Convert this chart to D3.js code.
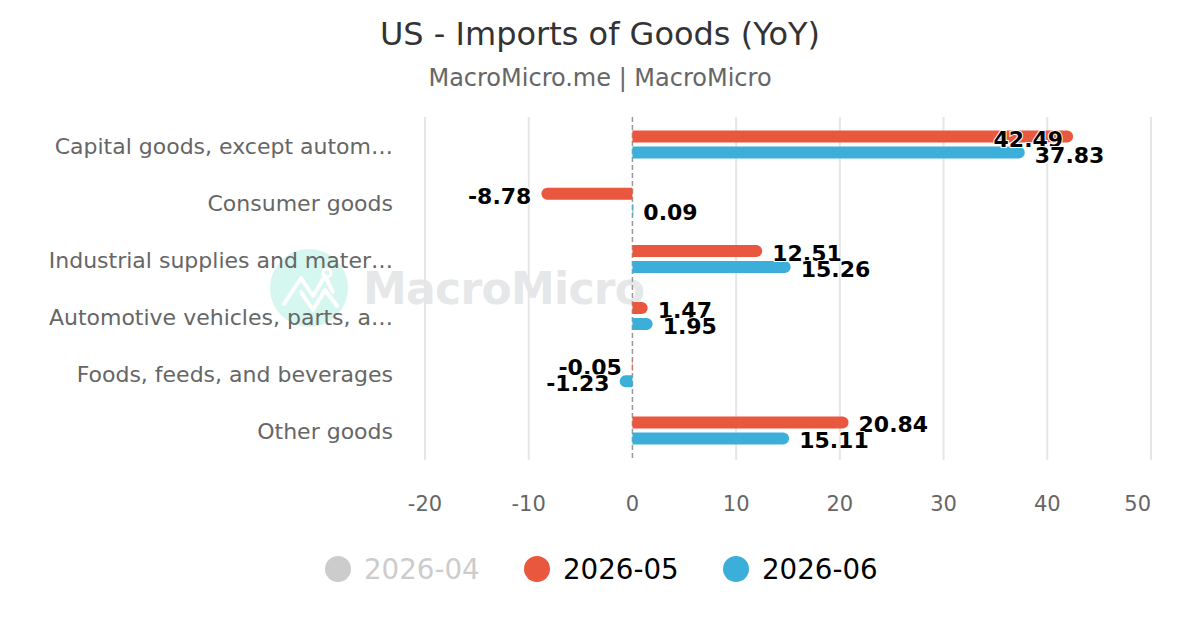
<!DOCTYPE html>
<html>
<head>
<meta charset="utf-8">
<script src="https://cdn.jsdelivr.net/npm/d3@7"></script>
<style>
  body { margin: 0; background: #fff; }
  svg { font-family: "DejaVu Sans", sans-serif; }
</style>
</head>
<body>
<svg id="chart" width="1200" height="630"></svg>
<script>
'use strict';

// Data
const categories = [
  "Capital goods, except autom\u2026",
  "Consumer goods",
  "Industrial supplies and mater\u2026",
  "Automotive vehicles, parts, a\u2026",
  "Foods, feeds, and beverages",
  "Other goods"
];
const seriesNames = ["2026-04", "2026-05", "2026-06"];
const seriesVisible = [false, true, true];
const values0605 = [42.49, -8.78, 12.51, 1.47, -0.05, 20.84];
const values0606 = [37.83, 0.09, 15.26, 1.95, -1.23, 15.11];
const xTicks = [-20, -10, 0, 10, 20, 30, 40, 50];

const colors = {"2026-04": "#cccccc", "2026-05": "#e9573f", "2026-06": "#3bafda"};

// Layout
const plot = {left: 425, right: 1151, top: 117, bottom: 460};
const svg = d3.select("#chart");

const x = d3.scaleLinear().domain([-20, 50]).range([plot.left, plot.right]);
const y = d3.scaleBand().domain(categories).range([plot.top, plot.bottom]);

const shown = seriesNames.filter((s, i) => seriesVisible[i]);
const bw = y.bandwidth();
const yInner = d3.scaleBand().domain(shown)
  .range([bw / 2 - 15, bw / 2 + 13]).paddingInner(0.25);

// Title
svg.append("text")
  .attr("x", 600).attr("y", 45)
  .attr("text-anchor", "middle")
  .style("font-size", "32px")
  .style("fill", "#333")
  .text("US - Imports of Goods (YoY)");
svg.append("text")
  .attr("x", 600).attr("y", 86)
  .attr("text-anchor", "middle")
  .style("font-size", "24px")
  .style("fill", "#666")
  .text("MacroMicro.me | MacroMicro");

// Watermark
const wm = svg.append("g").attr("class", "watermark");
wm.append("circle").attr("cx", 309).attr("cy", 288).attr("r", 39).attr("fill", "#d6f6f0");
wm.append("path")
  .attr("d", "M284,304 L301,278 L313,296 L325,276 L333,292 M301,292 L313,310 L325,290 L337,306")
  .attr("fill", "none").attr("stroke", "#fff").attr("stroke-width", 4)
  .attr("stroke-linecap", "round").attr("stroke-linejoin", "round");
wm.append("circle").attr("cx", 327).attr("cy", 273).attr("r", 4)
  .attr("fill", "none").attr("stroke", "#fff").attr("stroke-width", 3);
wm.append("text")
  .attr("x", 363).attr("y", 304)
  .attr("textLength", 282)
  .style("font-size", "44px").style("font-weight", "bold")
  .style("fill", "#e6e7e9")
  .text("MacroMicro");

// Grid
svg.append("g").selectAll("line")
  .data(xTicks.filter(d => d !== 0))
  .enter().append("line")
  .attr("x1", d => x(d)).attr("x2", d => x(d))
  .attr("y1", plot.top).attr("y2", plot.bottom)
  .attr("stroke", "#e6e6e6").attr("stroke-width", 2);

svg.append("line")
  .attr("x1", x(0)).attr("x2", x(0))
  .attr("y1", plot.top).attr("y2", plot.bottom)
  .attr("stroke", "#999").attr("stroke-width", 1.5)
  .attr("stroke-dasharray", "5,3");

// x axis labels (last one kept inside the chart)
svg.append("g").selectAll("text")
  .data(xTicks)
  .enter().append("text")
  .attr("x", (d, i) => i === xTicks.length - 1 ? x(d) : x(d))
  .attr("y", 511)
  .attr("text-anchor", (d, i) => i === xTicks.length - 1 ? "end" : "middle")
  .style("font-size", "21px").style("fill", "#666")
  .text(d => d);

// category labels
svg.append("g").selectAll("text")
  .data(categories)
  .enter().append("text")
  .attr("x", 393).attr("y", d => y(d) + bw / 2 + 8)
  .attr("text-anchor", "end")
  .style("font-size", "22px").style("fill", "#666")
  .text(d => d);

// bars
const rows = [];
categories.forEach((c, i) => {
  rows.push({cat: c, series: "2026-05", value: values0605[i]});
  rows.push({cat: c, series: "2026-06", value: values0606[i]});
});

function barPath(d) {
  const x0 = x(0), x1 = x(d.value);
  const top = y(d.cat) + yInner(d.series);
  const h = yInner.bandwidth();
  const w = Math.abs(x1 - x0);
  const r = Math.min(h / 2, w);
  const p = d3.path();
  if (d.value >= 0) {
    p.moveTo(x0, top);
    p.lineTo(x1 - r, top);
    p.arcTo(x1, top, x1, top + h / 2, r);
    p.arcTo(x1, top + h, x1 - r, top + h, r);
    p.lineTo(x0, top + h);
  } else {
    p.moveTo(x0, top);
    p.lineTo(x1 + r, top);
    p.arcTo(x1, top, x1, top + h / 2, r);
    p.arcTo(x1, top + h, x1 + r, top + h, r);
    p.lineTo(x0, top + h);
  }
  p.closePath();
  return p.toString();
}

svg.append("g").selectAll("path")
  .data(rows)
  .enter().append("path")
  .attr("d", barPath)
  .attr("fill", d => colors[d.series]);

// data labels
const labels = svg.append("g").selectAll("text")
  .data(rows)
  .enter().append("text")
  .attr("y", d => y(d.cat) + yInner(d.series) + yInner.bandwidth() / 2 + 10)
  .style("font-size", "22px").style("font-weight", "bold")
  .style("fill", "#000")
  .style("stroke", "#fff").style("stroke-width", 2)
  .style("paint-order", "stroke")
  .text(d => d.value.toFixed(2));

labels.each(function(d) {
  const t = d3.select(this);
  const end = x(d.value);
  const tw = this.getComputedTextLength();
  if (d.value >= 0) {
    if (end + 10 + tw > plot.right) {
      t.attr("x", end - 10).attr("text-anchor", "end");
    } else {
      t.attr("x", end + 10).attr("text-anchor", "start");
    }
  } else {
    t.attr("x", end - 10).attr("text-anchor", "end");
  }
});

// legend
const legendX = [338, 537, 736];
const legend = svg.append("g").selectAll("g")
  .data(seriesNames)
  .enter().append("g")
  .attr("transform", (d, i) => `translate(${legendX[i]},569)`);
legend.append("circle")
  .attr("r", 13)
  .attr("fill", (d, i) => seriesVisible[i] ? colors[d] : "#cccccc");
legend.append("text")
  .attr("x", 26).attr("y", 10)
  .style("font-size", "27.7px")
  .style("fill", (d, i) => seriesVisible[i] ? "#000" : "#cccccc")
  .text(d => d);
</script>
</body>
</html>
